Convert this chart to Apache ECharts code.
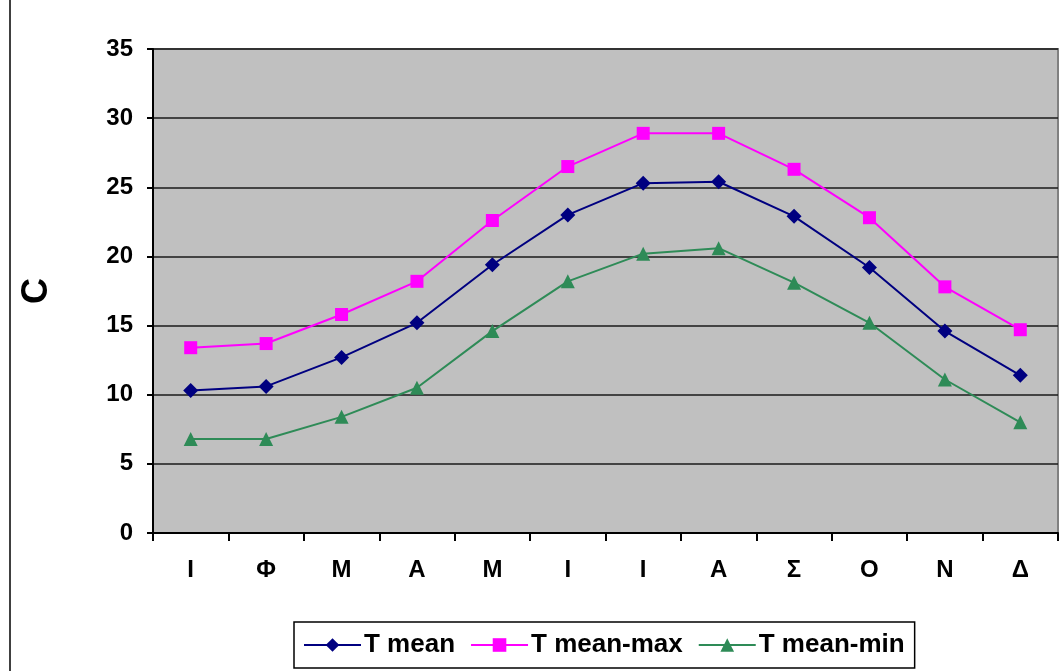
<!DOCTYPE html>
<html><head><meta charset="utf-8">
<script src="https://cdn.jsdelivr.net/npm/echarts@6/dist/echarts.min.js"></script>
<style>html,body{margin:0;padding:0;background:#fff}#c{width:1064px;height:671px}</style>
</head><body><div id="c"></div>
<script>
const categories = ['Ι','Φ','Μ','Α','Μ','Ι','Ι','Α','Σ','Ο','Ν','Δ'];
const tMean    = [10.3,10.6,12.7,15.2,19.4,23.0,25.3,25.4,22.9,19.2,14.6,11.4];
const tMeanMax = [13.4,13.7,15.8,18.2,22.6,26.5,28.9,28.9,26.3,22.8,17.8,14.7];
const tMeanMin = [6.8,6.8,8.4,10.5,14.6,18.2,20.2,20.6,18.1,15.2,11.1,8.0];
const yTicks = [0,5,10,15,20,25,30,35];

const font = 'Liberation Sans, Arial, sans-serif';
const chart = echarts.init(document.getElementById('c'));
function ser(name, data, color, symbol, size){
  return {name, type:'line', data, symbol, symbolSize:size,
    lineStyle:{color, width:2}, itemStyle:{color}, animation:false};
}
chart.setOption({
  animation:false,
  grid:{left:153,right:6,top:49,bottom:138,show:true,backgroundColor:'#C0C0C0',borderColor:'#808080',borderWidth:2},
  xAxis:{type:'category',data:categories,boundaryGap:true,
    axisLine:{lineStyle:{color:'#000',width:2}},
    axisTick:{show:true,length:8,lineStyle:{color:'#000',width:2}},
    axisLabel:{margin:25,fontFamily:font,fontWeight:'bold',fontSize:24,color:'#000'}},
  yAxis:{type:'value',min:0,max:35,interval:5,
    name:'C',nameLocation:'middle',nameGap:98,nameRotate:90,
    nameTextStyle:{fontFamily:font,fontWeight:'bold',fontSize:36,color:'#000'},
    axisLine:{show:true,lineStyle:{color:'#000',width:2}},
    axisTick:{show:true,length:6,lineStyle:{color:'#000',width:2}},
    axisLabel:{margin:20,fontFamily:font,fontWeight:'bold',fontSize:24,color:'#000',
      formatter:v=>yTicks.includes(v)?String(v):''},
    splitLine:{show:true,lineStyle:{color:'#1a1a1a',width:1.5}}},
  legend:{bottom:3,left:294,itemGap:15,itemWidth:57,itemHeight:17,
    borderColor:'#000',borderWidth:1.5,padding:[10,10,10,9],
    textStyle:{fontFamily:font,fontWeight:'bold',fontSize:26,color:'#000',padding:[0,0,0,-2]},
    data:['T mean','T mean-max','T mean-min']},
  graphic:[{type:'line',shape:{x1:10,y1:0,x2:10,y2:671},style:{stroke:'#000',lineWidth:1.5}}],
  series:[
    ser('T mean',tMean,'#000080','diamond',15),
    ser('T mean-max',tMeanMax,'#FF00FF','rect',13),
    ser('T mean-min',tMeanMin,'#2E8B57','triangle',14)
  ]
});
</script></body></html>
